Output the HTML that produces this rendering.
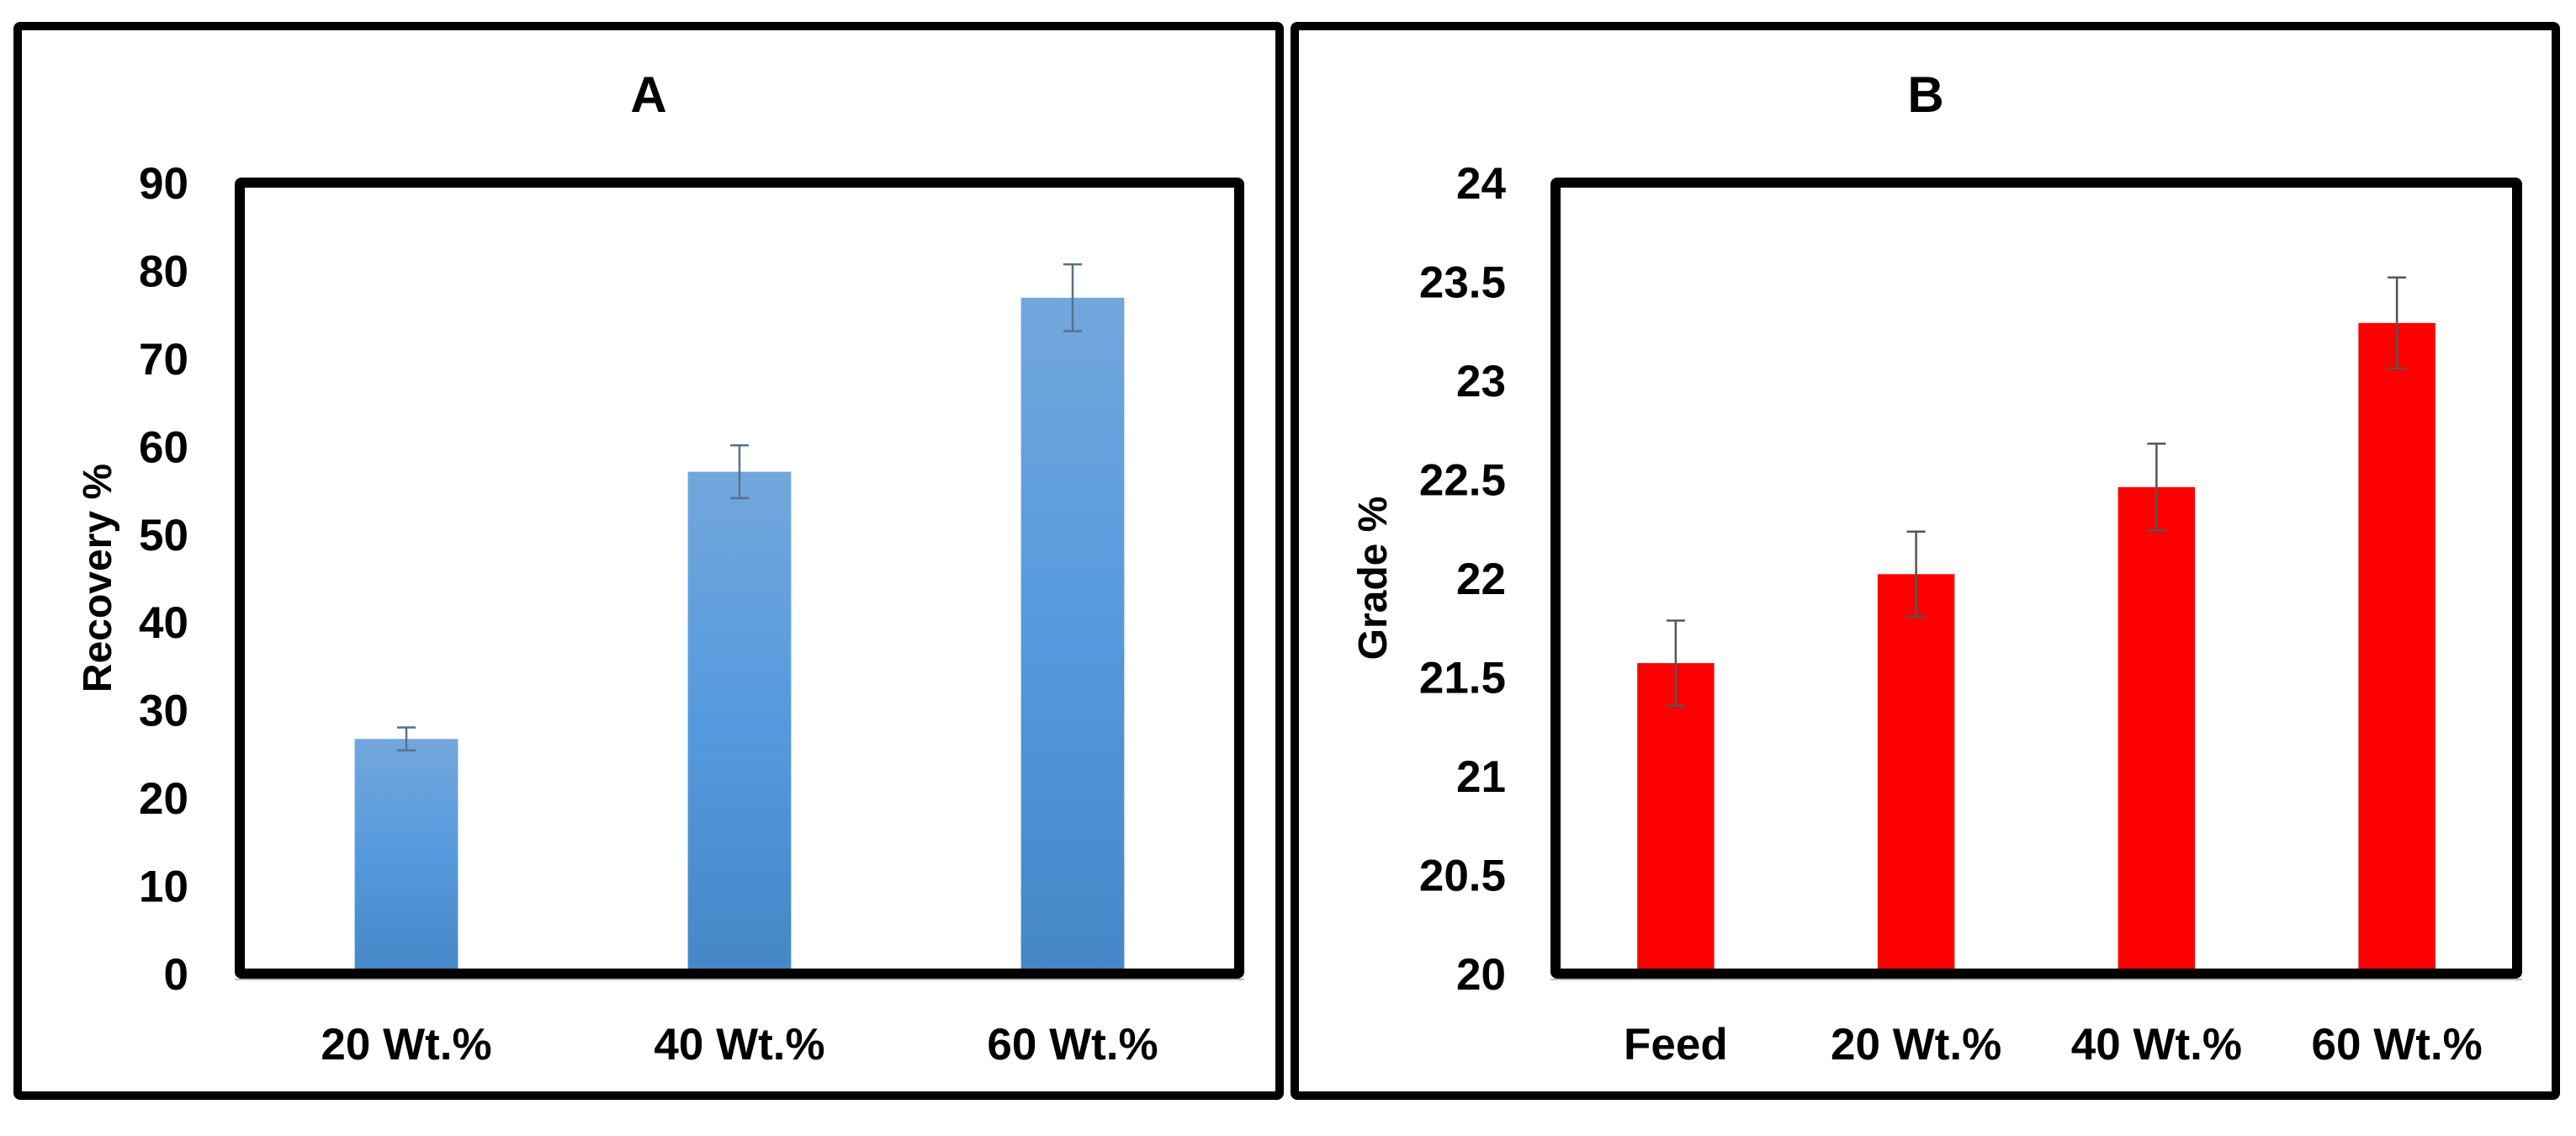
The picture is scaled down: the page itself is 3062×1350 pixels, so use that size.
<!DOCTYPE html>
<html><head><meta charset="utf-8"><style>
html,body{margin:0;padding:0;background:#fff;}
svg{display:block;}
text{font-family:"Liberation Sans",sans-serif;font-weight:bold;fill:#000;}
</style></head>
<body>
<svg id="chart" width="3062" height="1350" viewBox="0 0 3062 1350" xmlns="http://www.w3.org/2000/svg">
<defs>
<linearGradient id="blueGrad" x1="0" y1="0" x2="0" y2="1">
<stop offset="0" stop-color="#72a7dc"/><stop offset="0.5" stop-color="#559ade"/><stop offset="1" stop-color="#4587c6"/>
</linearGradient>
</defs>
<g id="panelA"></g>
<g id="panelB"></g>
</svg>
<script>
const catsA = ["20 Wt.%", "40 Wt.%", "60 Wt.%"];
const valsA = [26.7, 57.1, 76.9];
const errsA = [1.3, 3.0, 3.8];
const ticksA = [0, 10, 20, 30, 40, 50, 60, 70, 80, 90];
const tickLabelsA = ["0","10","20","30","40","50","60","70","80","90"];

const catsB = ["Feed", "20 Wt.%", "40 Wt.%", "60 Wt.%"];
const valsB = [21.57, 22.02, 22.46, 23.29];
const errsB = [0.215, 0.215, 0.22, 0.23];
const ticksB = [20, 20.5, 21, 21.5, 22, 22.5, 23, 23.5, 24];
const tickLabelsB = ["20","20.5","21","21.5","22","22.5","23","23.5","24"];

const NS = "http://www.w3.org/2000/svg";
function mk(parent, tag, attrs, txt){
  const e = document.createElementNS(NS, tag);
  for (const k in attrs) e.setAttribute(k, attrs[k]);
  if (txt !== undefined) e.textContent = txt;
  parent.appendChild(e);
  return e;
}

function panel(g, cfg){
  const yS = v => cfg.bottom - (v - cfg.min) / (cfg.max - cfg.min) * (cfg.bottom - cfg.top);
  const band = (cfg.right - cfg.left) / cfg.cats.length;
  const xS = i => cfg.left + band * (i + 0.5);

  const outer = mk(g, "rect", {x: cfg.ox1, y: 31, width: cfg.ox2 - cfg.ox1, height: 1271, fill: "none", stroke: "#000", "stroke-width": 10, rx: 3});
  
  

  const title = mk(g, "text", {x: cfg.tx, y: 133, "font-size": 60, "text-anchor": "middle"}, cfg.title);
  
  

  cfg.vals.forEach((v, i) => {
    const bw = band * cfg.barFrac;
    const bar = mk(g, "rect", {x: xS(i) - bw / 2, y: yS(v), width: bw, height: yS(cfg.min) - yS(v), fill: cfg.fill});
    
    
    const e = cfg.errs[i];
    const eb = mk(g, "path", {d: `M${xS(i)},${yS(v + e)}V${yS(v - e)}M${xS(i) - 11},${yS(v + e)}h22M${xS(i) - 11},${yS(v - e)}h22`, stroke: cfg.errColor, "stroke-width": 2.5, fill: "none"});
    
    
  });

  const frame = mk(g, "rect", {x: cfg.left, y: cfg.top, width: cfg.right - cfg.left, height: cfg.bottom - cfg.top, fill: "none", stroke: "#000", "stroke-width": 12, rx: 2});
  
  
  const axl = mk(g, "line", {x1: cfg.left - 6, x2: cfg.right + 6, y1: cfg.bottom + 7, y2: cfg.bottom + 7, stroke: "#bbb", "stroke-width": 2});
  
  

  cfg.ticks.forEach((t, i) => {
    const tl = mk(g, "text", {x: cfg.tickRight, y: yS(t) + 19, "font-size": 53, "text-anchor": "end"}, cfg.tickLabels[i]);
    
    
  });

  cfg.cats.forEach((c, i) => {
    const xl = mk(g, "text", {x: xS(i), y: 1259, "font-size": 53, "text-anchor": "middle"}, c);
    
    
  });

  const yt = mk(g, "text", {x: 0, y: 0, "font-size": 48, "text-anchor": "middle", transform: `translate(${cfg.ytx},${(cfg.top + cfg.bottom) / 2}) rotate(-90)`}, cfg.ytitle);
  
  
}

panel(document.getElementById("panelA"), {
  cats: catsA, vals: valsA, errs: errsA, ticks: ticksA, tickLabels: tickLabelsA,
  min: 0, max: 90, left: 285, right: 1473, top: 217, bottom: 1157,
  ox1: 21, ox2: 1521, tx: 771, tickRight: 224, ytx: 132, ytitle: "Recovery %", title: "A",
  fill: "url(#blueGrad)", errColor: "#5a6f8f", barFrac: 0.31
});
panel(document.getElementById("panelB"), {
  cats: catsB, vals: valsB, errs: errsB, ticks: ticksB, tickLabels: tickLabelsB,
  min: 20, max: 24, left: 1849, right: 2992, top: 217, bottom: 1157,
  ox1: 1539, ox2: 3038, tx: 2289, tickRight: 1790, ytx: 1648, ytitle: "Grade %", title: "B",
  fill: "#ff0000", errColor: "#555", barFrac: 0.32
});
</script>
</body></html>
